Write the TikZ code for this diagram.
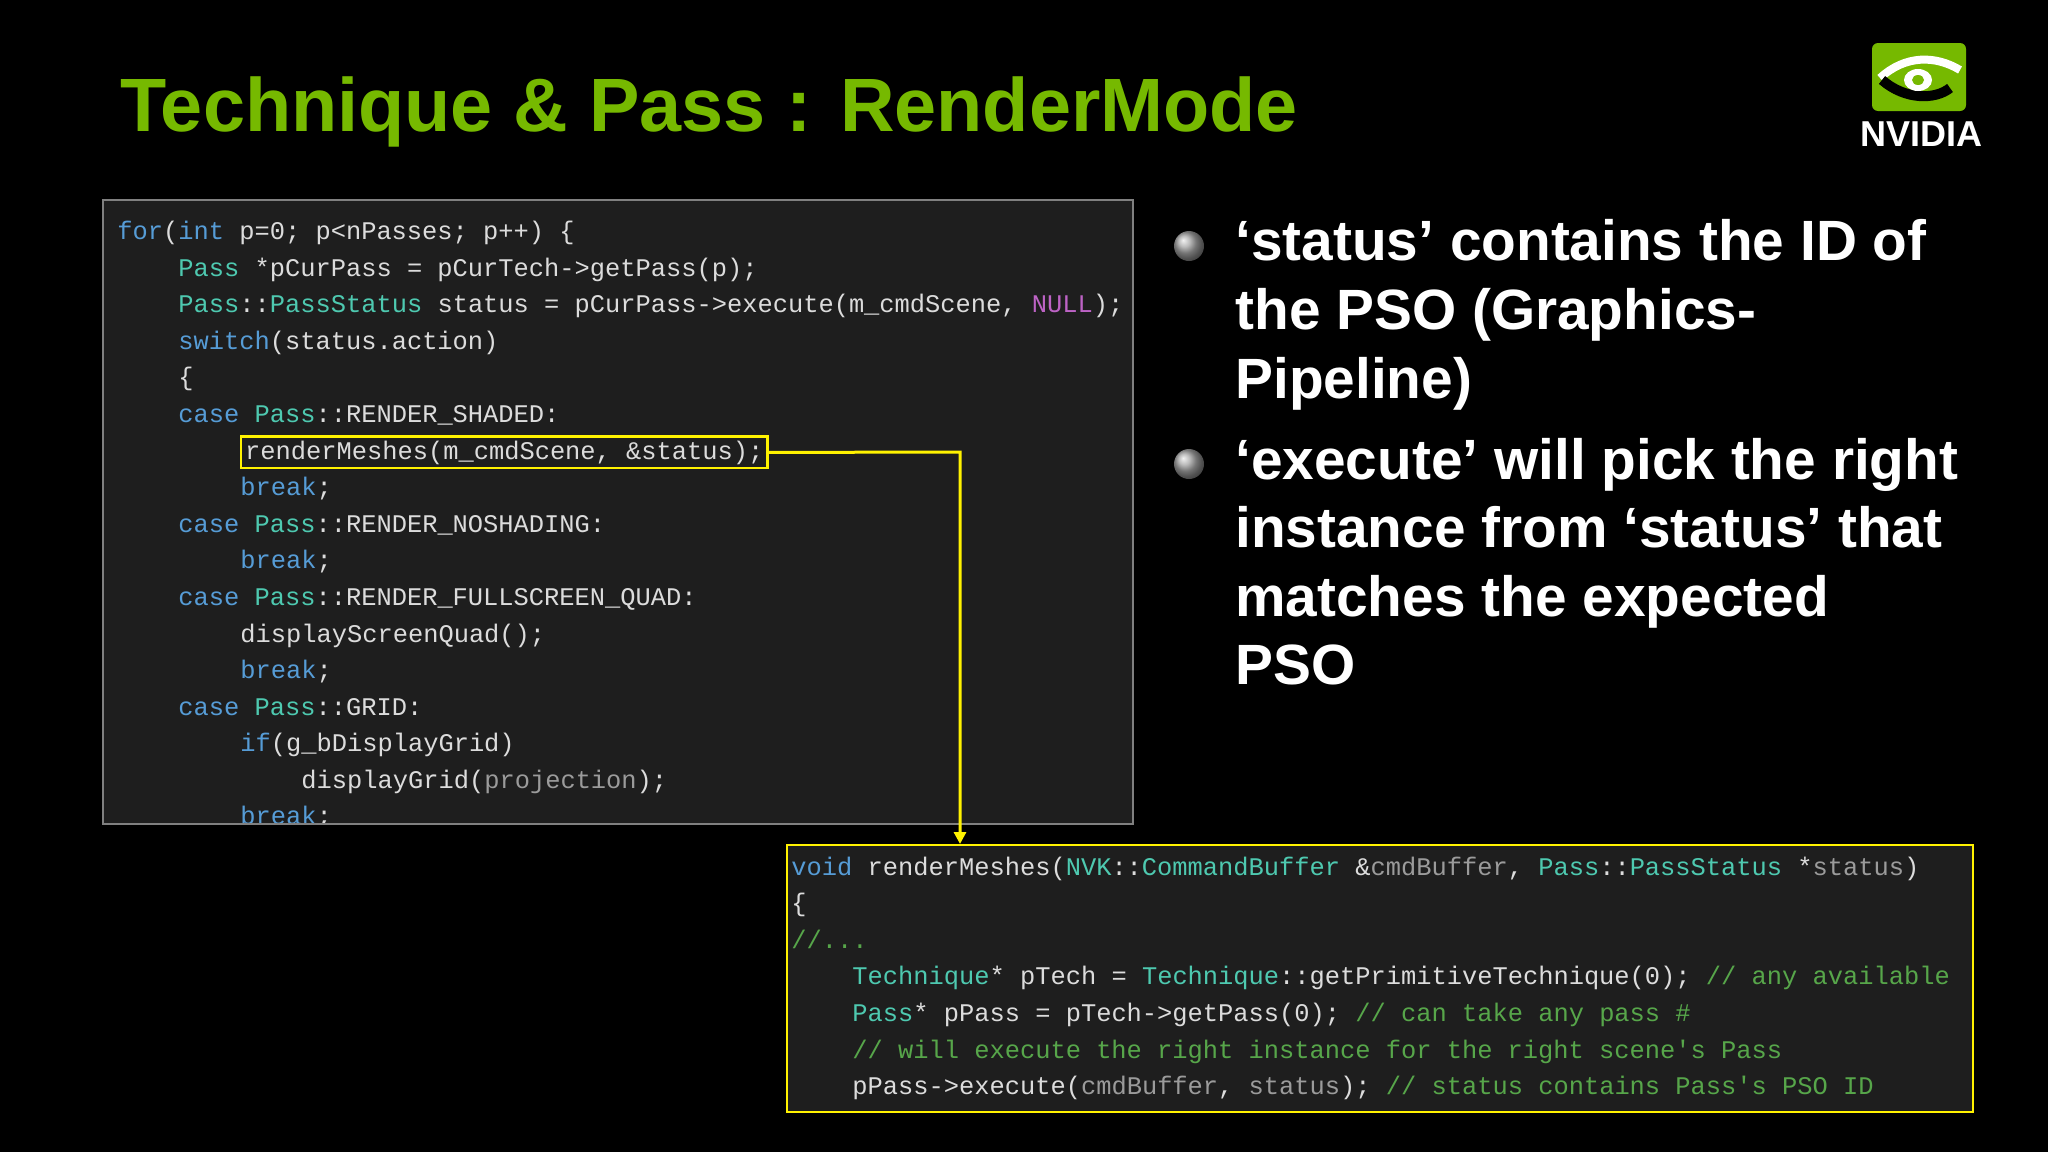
\documentclass[tikz,border=0pt]{standalone}
\usepackage{fontspec}
\setmainfont{Liberation Sans}
\newfontfamily\codefont{Liberation Mono}[Scale=1]
\usetikzlibrary{arrows.meta}
\definecolor{nvgreen}{HTML}{76B900}
\definecolor{ckwc}{HTML}{569CD6}
\definecolor{ctyc}{HTML}{4EC9B0}
\definecolor{ctxc}{HTML}{DCDCDC}
\definecolor{ccmc}{HTML}{57A64A}
\definecolor{cgrc}{HTML}{9B9B9B}
\definecolor{cnuc}{HTML}{BD63C5}
\definecolor{codebg}{HTML}{1E1E1E}
\newcommand{\ckw}[1]{\textcolor{ckwc}{#1}}
\newcommand{\cty}[1]{\textcolor{ctyc}{#1}}
\newcommand{\ccm}[1]{\textcolor{ccmc}{#1}}
\newcommand{\cgr}[1]{\textcolor{cgrc}{#1}}
\newcommand{\cnu}[1]{\textcolor{cnuc}{#1}}
\begin{document}
\begin{tikzpicture}[x=0.5pt,y=-0.5pt,
  code/.style={anchor=base west,inner sep=0pt,text=ctxc,font=\codefont\fontsize{12.7}{14}\selectfont},
  bullettext/.style={anchor=base west,inner sep=0pt,text=white,font=\bfseries\fontsize{28.4}{32}\selectfont},
  dot/.style={circle,inner sep=0pt,minimum size=15pt,ball color=gray!70,draw=none}]
\fill[black] (0,0) rectangle (2048,1152);
\useasboundingbox (0,0) rectangle (2048,1152);
% title
\node[anchor=base west,inner sep=0pt,text=nvgreen,font=\bfseries\fontsize{37.8}{42}\selectfont] (title) at (120,131) {Technique \& Pass : RenderMode};
% logo
\fill[nvgreen,rounded corners=3pt] (1872,43) rectangle (1966,111);
\draw[white,line width=4pt] (1880,78) .. controls (1905,55) and (1935,55) .. (1960,70);
\draw[black,line width=5pt] (1882,80) .. controls (1905,100) and (1935,100) .. (1950,88);
\fill[white] (1918,80) ellipse (14 and 11);
\fill[nvgreen] (1918,80) ellipse (6 and 5);
\node[anchor=base west,inner sep=0pt,text=white,font=\bfseries\fontsize{18}{18}\selectfont] (logo) at (1860,146) {NVIDIA};
% left code box
\node[fill=codebg,draw=gray,line width=1pt,anchor=north west,minimum width=515pt,minimum height=312pt,inner sep=0pt] (lbox) at (102,199) {};
\begin{scope}
\clip (103,200) rectangle (1131,822);
\node[code] (l1) at (117,239) {\ckw{for}(\ckw{int} p=0; p<nPasses; p++) \{};
\node[code] (l2) at (178,276) {\cty{Pass} *pCurPass = pCurTech->getPass(p);};
\node[code] (l3) at (178,312) {\cty{Pass}::\cty{PassStatus} status = pCurPass->execute(m\_cmdScene, \cnu{NULL});};
\node[code] (l4) at (178,349) {\ckw{switch}(status.action)};
\node[code] (l5) at (178,385) {\{};
\node[code] (l6) at (178,422) {\ckw{case} \cty{Pass}::RENDER\_SHADED:};
\node[code,draw=yellow,line width=1.2pt,inner sep=2pt] (rm) at (240,459) {renderMeshes(m\_cmdScene, \&status);};
\node[code] (l8) at (240,495) {\ckw{break};};
\node[code] (l9) at (178,532) {\ckw{case} \cty{Pass}::RENDER\_NOSHADING:};
\node[code] (l10) at (240,568) {\ckw{break};};
\node[code] (l11) at (178,605) {\ckw{case} \cty{Pass}::RENDER\_FULLSCREEN\_QUAD:};
\node[code] (l12) at (240,642) {displayScreenQuad();};
\node[code] (l13) at (240,678) {\ckw{break};};
\node[code] (l14) at (178,715) {\ckw{case} \cty{Pass}::GRID:};
\node[code] (l15) at (240,751) {\ckw{if}(g\_bDisplayGrid)};
\node[code] (l16) at (301,788) {displayGrid(\cgr{projection});};
\node[code] (l17) at (240,824) {\ckw{break};};
\end{scope}
% bottom box
\node[fill=codebg,draw=yellow,line width=1.2pt,anchor=north west,minimum width=593pt,minimum height=133.5pt,inner sep=0pt] (bot) at (786,844) {};
\node[code] (b1) at (791,875) {\ckw{void} renderMeshes(\cty{NVK}::\cty{CommandBuffer} \&\cgr{cmdBuffer}, \cty{Pass}::\cty{PassStatus} *\cgr{status})};
\node[code] (b2) at (791,911) {\{};
\node[code] (b3) at (791,948) {\ccm{//...}};
\node[code] (b4) at (852,984) {\cty{Technique}* pTech = \cty{Technique}::getPrimitiveTechnique(0); \ccm{// any available}};
\node[code] (b5) at (852,1021) {\cty{Pass}* pPass = pTech->getPass(0); \ccm{// can take any pass \#}};
\node[code] (b6) at (852,1058) {\ccm{// will execute the right instance for the right scene's Pass}};
\node[code] (b7) at (852,1094) {pPass->execute(\cgr{cmdBuffer}, \cgr{status}); \ccm{// status contains Pass's PSO ID}};
% connector
\coordinate (bend) at (960,452);
\draw[yellow,line width=1.5pt,-{Triangle[length=6pt,width=6pt]}] (rm.east) -- (bend) -- (bend |- bot.north);
% bullets
\node[dot] (d1) at (1189,246) {};
\node[dot] (d2) at (1189,464) {};
\node[bullettext] (t1) at (1235,260) {‘status’ contains the ID of};
\node[bullettext] (t2) at (1235,329) {the PSO (Graphics-};
\node[bullettext] (t3) at (1235,398) {Pipeline)};
\node[bullettext] (t4) at (1235,479) {‘execute’ will pick the right};
\node[bullettext] (t5) at (1235,547) {instance from ‘status’ that};
\node[bullettext] (t6) at (1235,616) {matches the expected};
\node[bullettext] (t7) at (1235,684) {PSO};
\end{tikzpicture}
\end{document}
